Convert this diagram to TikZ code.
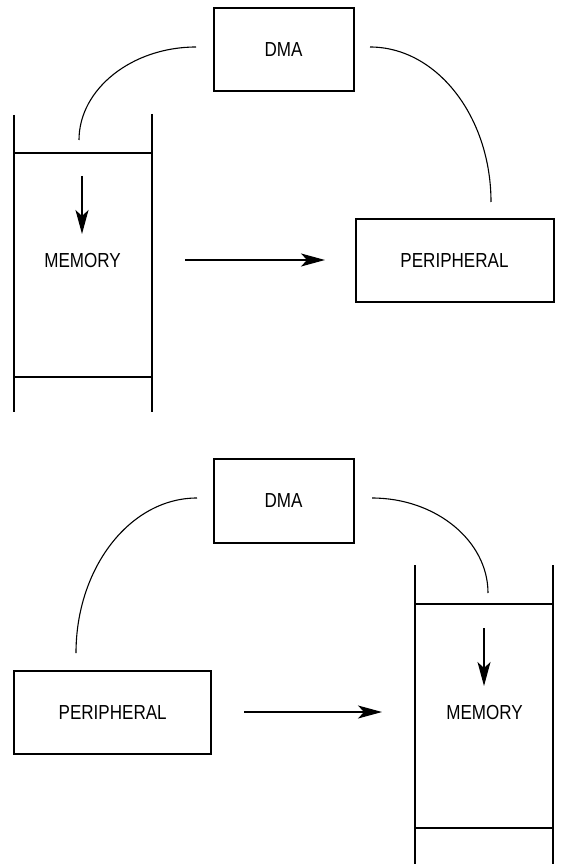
\documentclass[tikz,border=0pt]{standalone}
\usepackage{fontspec}
\setmainfont[FakeStretch=0.84]{Liberation Sans}
\usetikzlibrary{arrows.meta}
\begin{document}
\begin{tikzpicture}[x=1pt,y=-1pt,
  every node/.style={font=\fontsize{20.3}{24}\selectfont, inner sep=0pt},
  box/.style={draw, line width=2pt, minimum height=83pt},
  memline/.style={line width=2pt},
  link/.style={line width=1.1pt},
  flow/.style={line width=1.1pt, -{Stealth[length=24pt,width=13pt,inset=6pt]}}]
\useasboundingbox (0,0) rectangle (561,866);
% ---------- top diagram ----------
\node[box, minimum width=140pt] (dmaA) at (283.5,49.5) {DMA};
\node[box, minimum width=198pt] (perA) at (454.5,260.5) {PERIPHERAL};
\node (memA) at (82.6,261) {MEMORY};
\draw[memline] (14,115) -- (14,412);
\draw[memline] (152,114) -- (152,412);
\draw[memline] (14,153) -- (152,153);
\draw[memline] (14,377) -- (152,377);
\coordinate (memAin) at (82,176);
\coordinate (memAout) at (82,234);
\draw[flow] (memAin) -- (memAout);
\coordinate (fA1) at (185,260);
\coordinate (fA2) at (325,260);
\draw[flow] (fA1) -- (fA2);
\coordinate (cA1) at (196,47);
\coordinate (cA2) at (79,140);
\coordinate (cA3) at (370,47);
\coordinate (cA4) at (491,202);
\draw[link] (cA1) .. controls (132,47) and (79,89) .. (cA2);
\draw[link] (cA3) .. controls (437,47) and (491,117) .. (cA4);
% ---------- bottom diagram ----------
\node[box, minimum width=140pt, minimum height=84pt] (dmaB) at (283.5,501) {DMA};
\node[box, minimum width=197.5pt] (perB) at (112.7,712.5) {PERIPHERAL};
\node (memB) at (484.6,713) {MEMORY};
\draw[memline] (415,565) -- (415,864);
\draw[memline] (553,565) -- (553,864);
\draw[memline] (415,604) -- (553,604);
\draw[memline] (415,828) -- (553,828);
\coordinate (memBin) at (484,628);
\coordinate (memBout) at (484,686);
\draw[flow] (memBin) -- (memBout);
\coordinate (fB1) at (244,712);
\coordinate (fB2) at (382,712);
\draw[flow] (fB1) -- (fB2);
\coordinate (cB1) at (197,498);
\coordinate (cB2) at (76,653);
\coordinate (cB3) at (372,498);
\coordinate (cB4) at (488,593);
\draw[link] (cB1) .. controls (130,498) and (76,568) .. (cB2);
\draw[link] (cB3) .. controls (436,498) and (488,541) .. (cB4);
\end{tikzpicture}
\end{document}
